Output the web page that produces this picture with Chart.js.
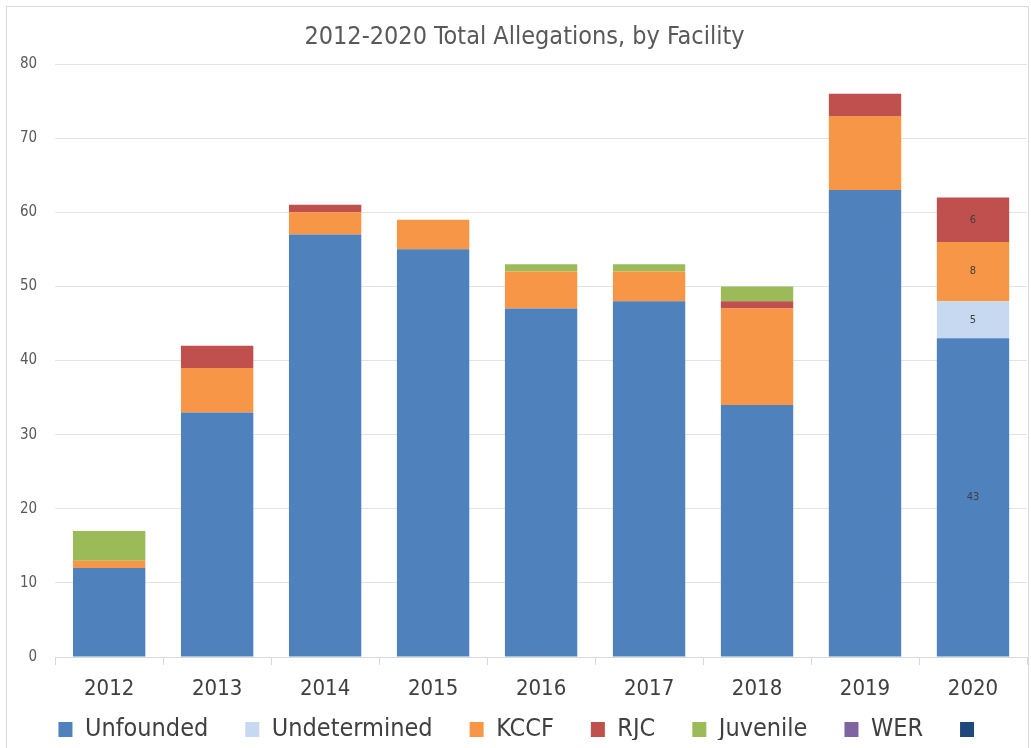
<!DOCTYPE html>
<html>
<head>
<meta charset="utf-8">
<script src="https://cdn.jsdelivr.net/npm/chart.js@4.4.0/dist/chart.umd.min.js"></script>
<style>
  body { margin: 0; background: #fff; }
  #wrap { position: relative; width: 1031px; height: 748px; }
  #frame { position: absolute; left: 6px; top: 6px; width: 1021px; height: 760px; border: 1px solid #d9d9d9; pointer-events: none; }
</style>
</head>
<body>
<div id="wrap">
  <canvas id="myChart" width="1031" height="748"></canvas>
  <div id="frame"></div>
</div>
<script>
// 데이터
const years = ["2012", "2013", "2014", "2015", "2016", "2017", "2018", "2019", "2020"];
const unfounded    = [12, 33, 57, 55, 47, 48, 34, 63, 43];
const undetermined = [0, 0, 0, 0, 0, 0, 0, 0, 5];
const kccf         = [1, 6, 3, 4, 5, 4, 13, 10, 8];
const rjc          = [0, 3, 1, 0, 0, 0, 1, 3, 6];
const juvenile     = [4, 0, 0, 0, 1, 1, 2, 0, 0];
const wer          = [0, 0, 0, 0, 0, 0, 0, 0, 0];
const other        = [0, 0, 0, 0, 0, 0, 0, 0, 0];
const yTicks = [0, 10, 20, 30, 40, 50, 60, 70, 80];

const FONT = "'Liberation Sans Narrow', 'DejaVu Sans Condensed', 'Open Sans', sans-serif";

// 2020 막대에만 값 표시
const labelPlugin = {
  id: "lastBarLabels",
  afterLayout(chart) {
    // 제목, 범례 위치 조정
    chart.titleBlock.left += 20;
    chart.legend.left += 16;
    chart.legend.top += 12;
    chart.scales.x.bottom = chart.height; // x 라벨 잘림 방지
  },
  afterDatasetsDraw(chart) {
    const ctx = chart.ctx;
    const last = years.length - 1;
    ctx.save();
    ctx.font = "11px " + FONT;
    ctx.fillStyle = "#404040";
    ctx.textAlign = "center";
    ctx.textBaseline = "middle";
    chart.data.datasets.forEach(function(ds, i) {
      const v = ds.data[last];
      if (!v) return;
      const bar = chart.getDatasetMeta(i).data[last];
      ctx.fillText(String(v), bar.x, (bar.y + bar.base) / 2);
    });
    ctx.restore();
  }
};

const ctx = document.getElementById('myChart');

new Chart(ctx, {
  type: 'bar',
  data: {
    labels: years,
    datasets: [
      { label: 'Unfounded', data: unfounded, backgroundColor: '#4F81BD' },
      { label: 'Undetermined', data: undetermined, backgroundColor: '#C6D9F1' },
      { label: 'KCCF', data: kccf, backgroundColor: '#F79646' },
      { label: 'RJC', data: rjc, backgroundColor: '#C0504D' },
      { label: 'Juvenile', data: juvenile, backgroundColor: '#9BBB59' },
      { label: 'WER', data: wer, backgroundColor: '#8064A2' },
      { label: '', data: other, backgroundColor: '#1F497D' }
    ]
  },
  options: {
    responsive: false,
    animation: false,
    layout: { padding: { left: 2, right: 4, top: 0, bottom: 8 } },
    datasets: { bar: { categoryPercentage: 0.67, barPercentage: 1 } },
    plugins: {
      title: {
        display: true,
        text: '2012-2020 Total Allegations, by Facility',
        color: '#595959',
        font: { family: FONT, size: 25, weight: 'normal' },
        padding: { top: 22, bottom: 12 }
      },
      legend: {
        position: 'bottom',
        labels: {
          color: '#404040',
          font: { family: FONT, size: 25 },
          boxWidth: 14,
          boxHeight: 15,
          padding: 37
        }
      },
      tooltip: { enabled: false }
    },
    scales: {
      x: {
        stacked: true,
        afterFit: function(axis) { axis.height = 11; },
        grid: { drawOnChartArea: false, drawTicks: true, tickLength: 8, color: '#d9d9d9', offset: true },
        border: { color: '#d9d9d9' },
        ticks: { color: '#404040', font: { family: FONT, size: 22 }, padding: 11 }
      },
      y: {
        stacked: true,
        min: 0,
        max: 80,
        afterBuildTicks: function(axis) {
          axis.ticks = yTicks.map(function(v) { return { value: v }; });
        },
        grid: { color: '#e3e3e3', drawTicks: false },
        border: { display: false },
        ticks: { color: '#595959', font: { family: FONT, size: 15 }, padding: 18 }
      }
    }
  },
  plugins: [labelPlugin]
});
</script>
</body>
</html>
